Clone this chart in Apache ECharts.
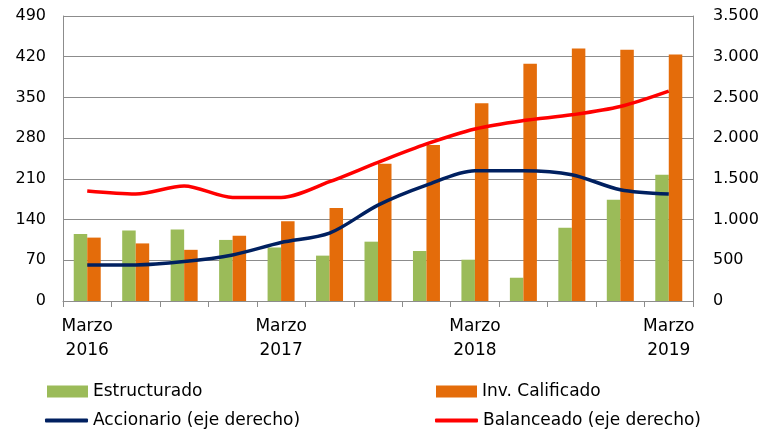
<!DOCTYPE html>
<html>
<head>
<meta charset="utf-8">
<script src="https://cdn.jsdelivr.net/npm/echarts@6/dist/echarts.min.js"></script>
<style>
  html, body { margin: 0; padding: 0; background: #fff; }
  #chart { width: 765px; height: 433px; }
</style>
</head>
<body>
<div id="chart"></div>
<script>
// trimestres, de marzo 2016 a marzo 2019
const categories = [
  'Marzo\n2016', 'Junio\n2016', 'Septiembre\n2016', 'Diciembre\n2016',
  'Marzo\n2017', 'Junio\n2017', 'Septiembre\n2017', 'Diciembre\n2017',
  'Marzo\n2018', 'Junio\n2018', 'Septiembre\n2018', 'Diciembre\n2018',
  'Marzo\n2019'
]

// eje izquierdo
const estructurado = [115, 121, 123, 105, 92, 78, 102, 86, 71, 40, 126, 174, 217]
const invCalificado = [109, 99, 88, 112, 137, 160, 236, 268, 340, 408, 434, 432, 424]

// eje derecho
const accionario = [443, 443, 484, 566, 718, 833, 1178, 1424, 1600, 1600, 1551, 1366, 1313]
const balanceado = [1350, 1313, 1412, 1272, 1272, 1465, 1703, 1929, 2113, 2216, 2286, 2388, 2577]

const leftTicks = { min: 0, max: 490, interval: 70 }
const rightTicks = { min: 0, max: 3500, interval: 500 }

const font = '"DejaVu Sans", sans-serif'
const gray = '#8c8c8c'

const chart = echarts.init(document.getElementById('chart'), null, { renderer: 'canvas' })

const barLegend = {
  itemWidth: 41,
  itemHeight: 12,
  padding: 0,
  icon: 'rect',
  textStyle: { fontFamily: font, fontSize: 17, color: '#000' }
}
const lineLegend = {
  itemWidth: 43,
  itemHeight: 4,
  padding: 0,
  icon: 'roundRect',
  textStyle: { fontFamily: font, fontSize: 17, color: '#000' }
}

const option = {
  animation: false,
  backgroundColor: '#fff',
  grid: { left: 63, right: 72, top: 16, bottom: 132 },
  legend: [
    Object.assign({}, barLegend, { data: ['Estructurado'], left: 47, top: 383 }),
    Object.assign({}, barLegend, { data: ['Inv. Calificado'], left: 436, top: 383 }),
    Object.assign({}, lineLegend, { data: ['Accionario (eje derecho)'], left: 45, top: 412 }),
    Object.assign({}, lineLegend, { data: ['Balanceado (eje derecho)'], left: 435, top: 412 })
  ],
  xAxis: {
    type: 'category',
    data: categories,
    boundaryGap: true,
    axisLine: { show: true, lineStyle: { color: gray, width: 1 } },
    axisTick: { show: true, interval: 0, length: 6, lineStyle: { color: gray } },
    axisLabel: {
      interval: 3,
      margin: 14,
      fontFamily: font,
      fontSize: 17,
      lineHeight: 24,
      color: '#000'
    },
    splitLine: { show: false }
  },
  yAxis: [
    {
      type: 'value',
      min: leftTicks.min,
      max: leftTicks.max,
      interval: leftTicks.interval,
      axisLine: { show: true, lineStyle: { color: gray } },
      axisTick: { show: false },
      axisLabel: { margin: 17, fontFamily: font, fontSize: 16, color: '#000' },
      splitLine: { show: true, lineStyle: { color: gray, width: 1 } }
    },
    {
      type: 'value',
      min: rightTicks.min,
      max: rightTicks.max,
      interval: rightTicks.interval,
      axisLine: { show: true, lineStyle: { color: gray } },
      axisTick: { show: false },
      axisLabel: {
        margin: 20,
        fontFamily: font,
        fontSize: 16,
        color: '#000',
        formatter: (v) => String(v).replace(/\B(?=(\d{3})+(?!\d))/g, '.')
      },
      splitLine: { show: false }
    }
  ],
  series: [
    {
      name: 'Estructurado',
      type: 'bar',
      yAxisIndex: 0,
      data: estructurado,
      barWidth: 13.5,
      barGap: '0%',
      itemStyle: { color: '#9bbb59' }
    },
    {
      name: 'Inv. Calificado',
      type: 'bar',
      yAxisIndex: 0,
      data: invCalificado,
      barWidth: 13.5,
      barGap: '0%',
      itemStyle: { color: '#e46c0a' }
    },
    {
      name: 'Accionario (eje derecho)',
      type: 'line',
      yAxisIndex: 1,
      data: accionario,
      smooth: 0.3,
      symbol: 'none',
      lineStyle: { color: '#002060', width: 3.5 },
      itemStyle: { color: '#002060' },
      z: 5
    },
    {
      name: 'Balanceado (eje derecho)',
      type: 'line',
      yAxisIndex: 1,
      data: balanceado,
      smooth: 0.3,
      symbol: 'none',
      lineStyle: { color: '#ff0000', width: 3.5 },
      itemStyle: { color: '#ff0000' },
      z: 5
    }
  ]
}

chart.setOption(option)
</script>
</body>
</html>
